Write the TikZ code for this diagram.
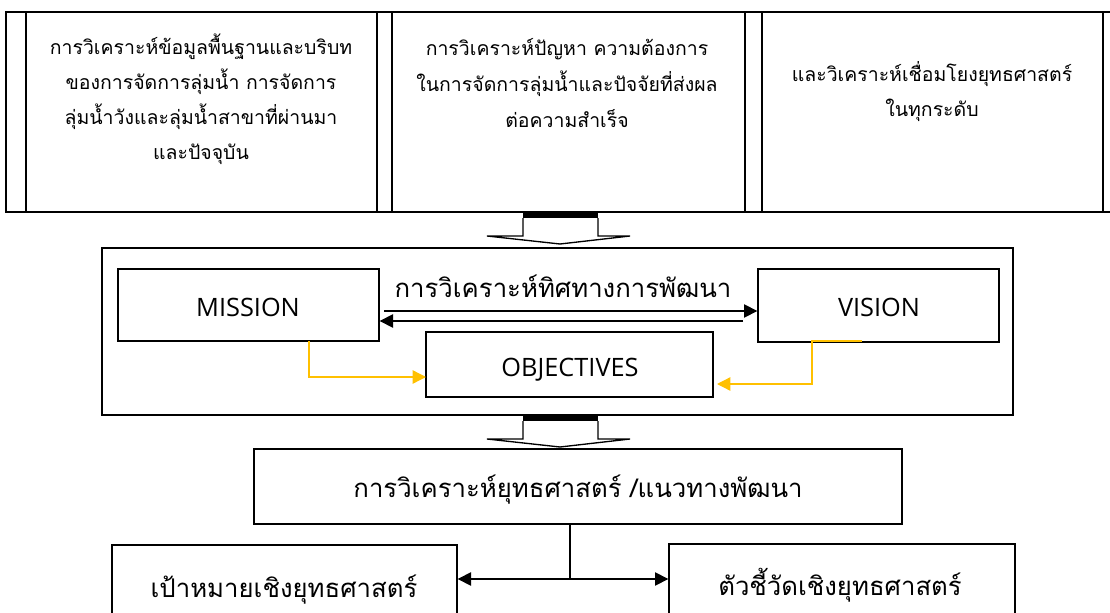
\documentclass[tikz,border=0pt]{standalone}
\usepackage{fontspec}
\setmainfont{Open Sans}
\newfontfamily\thai[Script=Thai]{Loma}
\usetikzlibrary{fit,arrows.meta}
\definecolor{goldline}{HTML}{FFC000}
\begin{document}
\begin{tikzpicture}[x=0.75pt,y=-0.75pt,
  cell/.style={draw, line width=1.2pt, inner sep=0pt},
  box/.style={draw, line width=1pt, inner sep=0pt},
  toptext/.style={inner sep=0pt, anchor=base, font=\thai\fontsize{14.6pt}{18pt}\selectfont},
  bigthai/.style={inner sep=0pt, anchor=base, font=\thai\fontsize{19.3pt}{23pt}\selectfont},
  latin/.style={inner sep=0pt, font=\fontsize{19pt}{23pt}\selectfont},
  blackarrow/.style={line width=1pt, -{Triangle[length=10pt,width=10pt]}},
  bothblack/.style={line width=1pt, {Triangle[length=10pt,width=10pt]}-{Triangle[length=10pt,width=10pt]}},
  goldarrow/.style={goldline, line width=1pt, -{Triangle[length=10pt,width=10pt]}},
  blockarrow/.style={fill=white, draw=black, line width=1pt}]
\useasboundingbox (0,0) rectangle (1110,613);
% top table
\node[cell, fit={(6,12)(26,212)}] (e0) {};
\node[cell, fit={(26,12)(377,212)}] (b1) {};
\node[cell, fit={(377,12)(392,212)}] (g1) {};
\node[cell, fit={(392,12)(745,212)}] (b2) {};
\node[cell, fit={(745,12)(762,212)}] (g2) {};
\node[cell, fit={(762,12)(1103,212)}] (b3) {};
\node[cell, fit={(1103,12)(1125,212)}] (e1) {};
\node[toptext] (t1a) at (201,55) {การวิเคราะห์ข้อมูลพื้นฐานและบริบท};
\node[toptext] (t1b) at (201,90) {ของการจัดการลุ่มน้ำ การจัดการ};
\node[toptext] (t1c) at (201,125) {ลุ่มน้ำวังและลุ่มน้ำสาขาที่ผ่านมา};
\node[toptext] (t1d) at (201,160) {และปัจจุบัน};
\node[toptext] (t2a) at (567,56) {การวิเคราะห์ปัญหา ความต้องการ};
\node[toptext] (t2b) at (567,92) {ในการจัดการลุ่มน้ำและปัจจัยที่ส่งผล};
\node[toptext] (t2c) at (567,128) {ต่อความสำเร็จ};
\node[toptext] (t3a) at (932,82) {และวิเคราะห์เชื่อมโยงยุทธศาสตร์};
\node[toptext] (t3b) at (932,117) {ในทุกระดับ};
% block arrow 1
\filldraw[blockarrow] (523,218) -- (523,236) -- (487,236) -- (560,244) -- (630,236) -- (598,236) -- (598,218);
\fill (523,212) rectangle (598,218);
% middle frame
\node[box, fit={(102,248)(1013,415)}] (frame) {};
\node[box, fit={(118,269)(379,341)}] (mission) {};
\node[box, fit={(758,269)(999,342)}] (vision) {};
\node[box, fit={(426,332)(713,397)}] (obj) {};
\node[latin] (missiont) at (248,307) {MISSION};
\node[latin] (visiont) at (879,307) {VISION};
\node[latin] (objt) at (570,370) {OBJECTIVES};
\node[bigthai] (lab) at (563,297) {การวิเคราะห์ทิศทางการพัฒนา};
\coordinate (ua) at (384,311);
\coordinate (la) at (743,321);
\draw[blackarrow] (ua) -- (vision.west |- ua);
\draw[blackarrow] (la) -- (mission.east |- la);
\coordinate (m1) at (309,341);
\coordinate (o1) at (426,377);
\draw[goldarrow] (m1) |- (o1);
\coordinate (v0) at (862,341);
\coordinate (v1) at (812,341);
\coordinate (o2) at (717,384);
\draw[goldarrow] (v0) -- (v1) |- (o2);
% block arrow 2
\filldraw[blockarrow] (523,421) -- (523,439) -- (487,439) -- (560,447) -- (630,439) -- (598,439) -- (598,421);
\fill (523,415) rectangle (598,421);
% strategy
\node[box, fit={(254,449)(902,524)}] (strat) {};
\node[bigthai] (stratt) at (578,497) {การวิเคราะห์ยุทธศาสตร์ /แนวทางพัฒนา};
\node[box, fit={(112,545)(457,660)}] (bl) {};
\node[box, fit={(669,544)(1015,660)}] (br) {};
\node[bigthai] (blt) at (284,597) {เป้าหมายเชิงยุทธศาสตร์};
\node[bigthai] (brt) at (840,595) {ตัวชี้วัดเชิงยุทธศาสตร์};
\coordinate (j) at (570,579);
\draw[line width=1pt] (strat.south -| j) -- (j);
\draw[bothblack] (bl.east |- j) -- (br.west |- j);
\end{tikzpicture}
\end{document}
